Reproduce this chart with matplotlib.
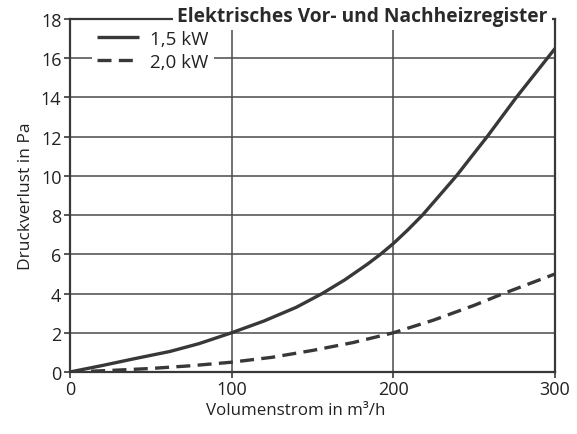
import matplotlib.pyplot as plt
import numpy as np

plt.rcParams['font.family'] = ['Open Sans', 'DejaVu Sans']

# Volumenstrom (m³/h) und Druckverlust (Pa)
x_15kw = [0, 20, 40, 62, 80, 100, 120, 140, 156, 170, 184, 192, 200, 209, 218, 228, 239, 248, 258, 267, 276, 288, 300]
y_15kw = [0, 0.33, 0.68, 1.05, 1.45, 2.0, 2.6, 3.3, 4.0, 4.7, 5.5, 6.0, 6.55, 7.25, 8.0, 8.95, 10.0, 10.95, 12.0, 13.0, 14.0, 15.25, 16.5]

x_20kw = [0, 25, 50, 75, 100, 125, 150, 175, 200, 225, 250, 268, 300]
y_20kw = [0, 0.08, 0.18, 0.32, 0.5, 0.75, 1.1, 1.5, 2.0, 2.65, 3.4, 4.0, 5.0]

labels = ['1,5 kW', '2,0 kW']
title = 'Elektrisches Vor- und Nachheizregister'

col = '#383838'

fig = plt.figure(figsize=(5.77, 4.35), dpi=100)
ax = fig.add_axes([0.121, 0.1425, 0.841, 0.8115])

ax.plot(x_15kw, y_15kw, color=col, lw=2.4, label=labels[0],
        solid_capstyle='butt', solid_joinstyle='round')
ax.plot(x_20kw, y_20kw, color=col, lw=2.4, ls=(0, (4.2, 2.2)), label=labels[1],
        dash_joinstyle='round')

ax.set_xlim(0, 300)
ax.set_ylim(0, 18)
ax.set_xticks([0, 100, 200, 300])
ax.set_yticks(np.arange(0, 19, 2))
ax.grid(True, color='#4a4a4a', lw=1.1)
ax.set_axisbelow(True)

for s in ax.spines.values():
    s.set_color(col)
    s.set_linewidth(1.6)

ax.tick_params(colors=col, labelsize=13, length=4, width=1.2, pad=2,
               labelcolor='#222222')
ax.set_xlabel('Volumenstrom in m³/h', fontsize=12.2, color='#222222')
ax.xaxis.set_label_coords(0.465, -0.085)
ax.set_ylabel('Druckverlust in Pa', fontsize=12.5, color='#222222', labelpad=5)

ax.text(0.985, 1.008, title, transform=ax.transAxes, ha='right', va='center',
        fontsize=13.8, fontweight='bold', color='#2a2a2a',
        bbox=dict(facecolor='white', edgecolor='none', pad=3))

leg = ax.legend(loc='upper left', bbox_to_anchor=(0.045, 0.985), fontsize=13.5,
                frameon=True, handlelength=2.25, handletextpad=0.55,
                borderpad=0.3, labelspacing=0.25, borderaxespad=0)
leg.get_frame().set_edgecolor('none')
leg.get_frame().set_facecolor('white')
leg.get_frame().set_alpha(1)
for t in leg.get_texts():
    t.set_color('#222222')

fig.savefig('out.png', dpi=100)
